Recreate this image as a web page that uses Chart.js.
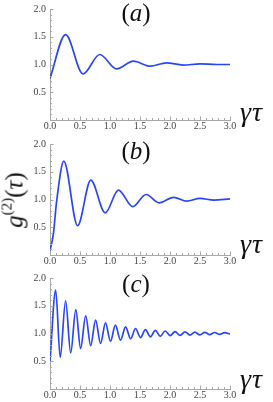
<!DOCTYPE html>
<html><head><meta charset="utf-8">
<script src="https://cdn.jsdelivr.net/npm/chart.js@4/dist/chart.umd.min.js"></script>
<style>
html,body{margin:0;padding:0;background:#fff;}
body{width:273px;height:402px;overflow:hidden;position:relative;font-family:'Liberation Serif','Times New Roman',serif;}
.pan{position:absolute;left:0;width:273px;height:134px;}
.pan canvas{display:block;}
.lab{position:absolute;width:60px;text-align:center;font-size:25px;line-height:25px;color:#111;white-space:nowrap;}
.gt{position:absolute;font-size:28px;line-height:28px;font-style:italic;color:#111;white-space:nowrap;letter-spacing:1px;}
.yt{position:absolute;left:16px;top:200px;transform:translate(-50%,-50%) rotate(-90deg);font-size:25px;line-height:25px;color:#111;white-space:nowrap;}
.yt sup{font-size:15px;font-style:normal;vertical-align:0;position:relative;top:-11px;}
</style></head>
<body>
<div class="pan" style="top:0px"><canvas id="ca" width="273" height="134"></canvas></div>
<div class="pan" style="top:135px"><canvas id="cb" width="273" height="134"></canvas></div>
<div class="pan" style="top:269px"><canvas id="cc" width="273" height="134"></canvas></div>
<div class="lab" style="left:106px;top:0px">(<i>a</i>)</div>
<div class="lab" style="left:106px;top:138px">(<i>b</i>)</div>
<div class="lab" style="left:106px;top:271px">(<i>c</i>)</div>
<div class="gt" style="left:240px;top:98px">γτ</div>
<div class="gt" style="left:240px;top:230px">γτ</div>
<div class="gt" style="left:240px;top:365px">γτ</div>
<div class="yt"><i>g</i><sup>(2)</sup>(<i>τ</i>)</div>
<script>
// x ticks and y ticks
const xTickLabels = ['0.0','0.5','1.0','1.5','2.0','2.5','3.0'];
const yTickLabels = ['0.5','1.0','1.5','2.0'];

// panel (a)
const xA = [0, 0.26, 0.55, 0.83, 1.11, 1.39, 1.67, 1.94, 2.22, 2.5, 2.78, 3.0];
const yA = [0.75, 1.54, 0.83, 1.18, 0.92, 1.06, 0.97, 1.03, 0.99, 1.01, 1.0, 1.0];

// panel (b)
const xB = [0, 0.055, 0.11, 0.23, 0.46, 0.68, 0.92, 1.14, 1.38, 1.6, 1.82, 2.06, 2.28, 2.5, 2.73, 3.0];
const yB = [0.08, 0.37, 0.96, 1.69, 0.53, 1.35, 0.76, 1.17, 0.87, 1.09, 0.94, 1.04, 0.97, 1.02, 0.99, 1.01];

// panel (c)
const xC = [0, 0.095, 0.17, 0.26, 0.345, 0.43, 0.51, 0.595, 0.678, 0.76, 0.843, 0.925, 1.008, 1.09, 1.175, 1.26, 1.343, 1.425, 1.508, 1.59, 1.673, 1.755, 1.838, 1.92, 2.003, 2.085, 2.168, 2.25, 2.333, 2.415, 2.498, 2.58, 2.663, 2.745, 2.828, 2.91, 3.0];
const yC = [0.5, 1.78, 0.57, 1.59, 0.65, 1.43, 0.73, 1.32, 0.78, 1.24, 0.82, 1.19, 0.86, 1.15, 0.88, 1.12, 0.905, 1.09, 0.925, 1.07, 0.94, 1.055, 0.95, 1.045, 0.96, 1.035, 0.967, 1.03, 0.972, 1.025, 0.976, 1.02, 0.98, 1.018, 0.983, 1.015, 0.99];

const LINE = '#2a46f7';
const AXIS = '#a8a8a8';
const TICKFONT = {family: 'Liberation Serif, serif', size: 10, lineHeight: 1};

const innerTicks = {
  id:'innerTicks',
  afterDraw(chart){
    const {ctx, scales:{x, y}} = chart;
    const y0 = y.getPixelForValue(0), x0 = x.getPixelForValue(0);
    ctx.save();
    ctx.strokeStyle = AXIS; ctx.lineWidth = 1;
    for (let i = 0; i <= 30; i++) {
      const px = Math.round(x.getPixelForValue(i/10)) + 0.5;
      const L = (i % 5 === 0) ? 3.5 : 2;
      ctx.beginPath(); ctx.moveTo(px, y0); ctx.lineTo(px, y0 - L); ctx.stroke();
    }
    for (let i = 0; i <= 20; i++) {
      const py = Math.round(y.getPixelForValue(i/10)) + 0.5;
      const L = (i % 5 === 0) ? 3.5 : 2;
      ctx.beginPath(); ctx.moveTo(x0, py); ctx.lineTo(x0 + L, py); ctx.stroke();
    }
    ctx.restore();
  }
};

function makeChart(id, xs, ys) {
  const pts = xs.map((v, i) => ({x: v, y: ys[i]}));
  return new Chart(document.getElementById(id), {
    type: 'line',
    data: {datasets: [{data: pts, borderColor: LINE, borderWidth: 1.7, pointRadius: 0,
      cubicInterpolationMode: 'monotone', fill: false}]},
    options: {
      responsive: false, animation: false, events: [],
      layout: {padding: {left: 0, right: 43, top: 6, bottom: 0}},
      plugins: {legend: {display: false}, tooltip: {enabled: false}, title: {display: false}},
      scales: {
        x: {
          type: 'linear', min: 0, max: 3,
          afterBuildTicks: s => { s.ticks = xTickLabels.map(t => ({value: parseFloat(t)})); },
          ticks: {autoSkip: false, maxRotation: 0, padding: 1, color: '#444', font: TICKFONT,
            callback: v => xTickLabels.find(t => parseFloat(t) === v) || ''},
          grid: {drawOnChartArea: false, drawTicks: false},
          border: {color: AXIS, width: 1},
          afterFit: s => { s.height = 14; }
        },
        y: {
          type: 'linear', min: 0, max: 2,
          afterBuildTicks: s => { s.ticks = yTickLabels.map(t => ({value: parseFloat(t)})); },
          ticks: {autoSkip: false, padding: 4, color: '#444', font: TICKFONT,
            callback: v => yTickLabels.find(t => parseFloat(t) === v) || ''},
          grid: {drawOnChartArea: false, drawTicks: false},
          border: {color: AXIS, width: 1},
          afterFit: s => { s.width = 50; }
        }
      }
    },
    plugins: [innerTicks]
  });
}

makeChart('ca', xA, yA);
makeChart('cb', xB, yB);
makeChart('cc', xC, yC);
</script>
</body></html>
